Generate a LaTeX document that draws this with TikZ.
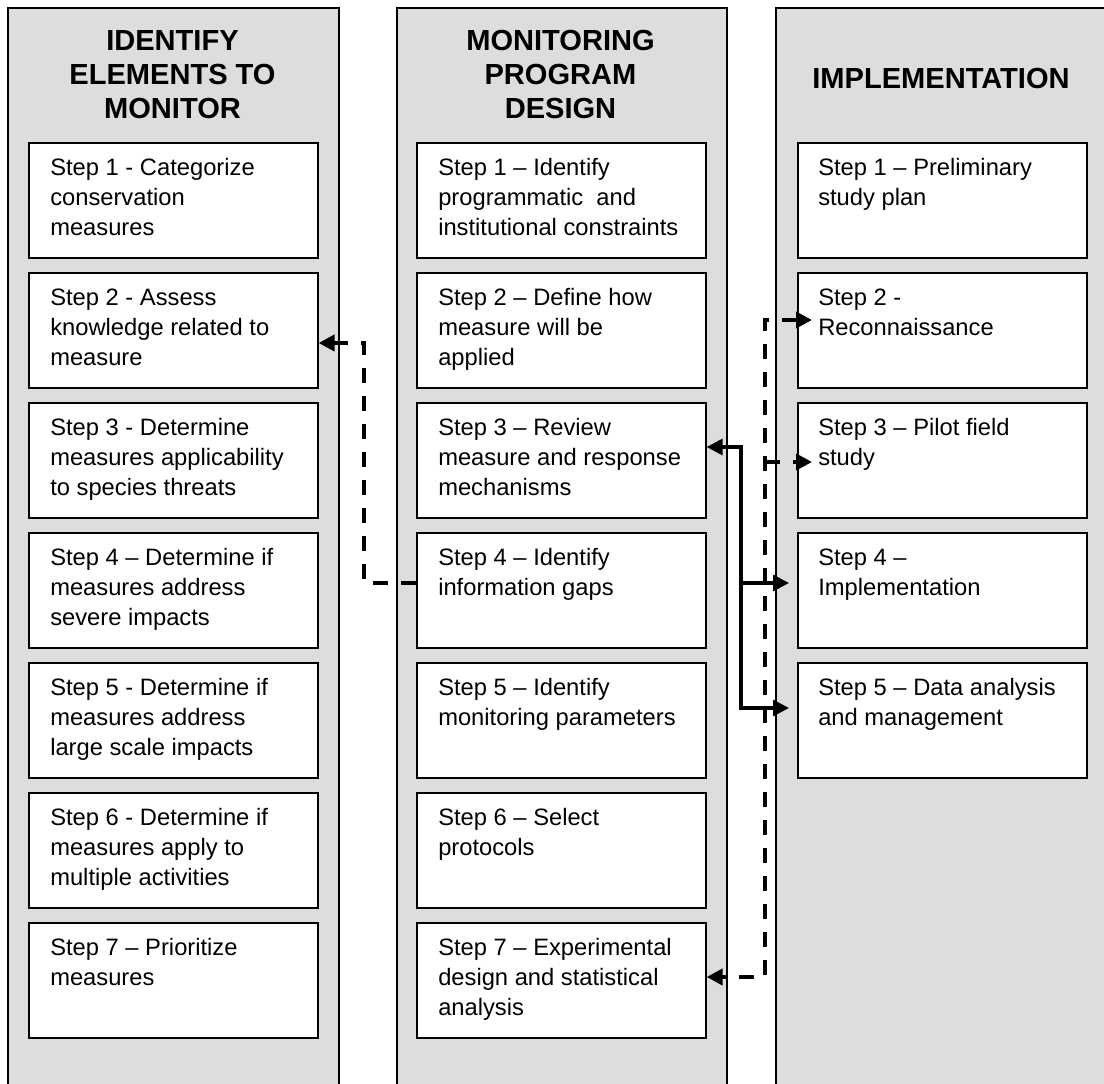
\documentclass[tikz,border=0pt]{standalone}
\usepackage{fontspec}
\setmainfont{Liberation Sans}
\usetikzlibrary{arrows.meta,calc}
\definecolor{colgray}{RGB}{221,221,221}
\tikzset{
  x=0.75pt, y=-0.75pt,
  column/.style={draw=black, fill=colgray, line width=1.2pt},
  stepbox/.style={draw=black, fill=white, line width=1.2pt, anchor=north west,
    minimum width=216.75pt, minimum height=86.25pt, inner sep=0pt},
  steptext/.style={anchor=north west, inner sep=0pt, font=\fontsize{17.8pt}{22.5pt}\selectfont},
  titletext/.style={anchor=north, inner sep=0pt, font=\fontsize{21.8pt}{25.5pt}\selectfont\bfseries},
  arrowend/.style={-{Triangle[length=12pt,width=12pt]}},
  arrowboth/.style={{Triangle[length=12pt,width=12pt]}-{Triangle[length=12pt,width=12pt]}},
  dashconn/.style={line width=3pt, dash pattern=on 11pt off 10pt},
  solidconn/.style={line width=2.4pt},
}
\newcommand\steptxt[1]{\parbox[t]{210pt}{\raggedright\strut #1}}
\newcommand\titletxt[1]{\parbox[t]{240pt}{\centering\strut #1}}
\begin{document}
\begin{tikzpicture}
\useasboundingbox (0,0) rectangle (1104,1084);
\clip (0,0) rectangle (1104,1084);
% columns
\path[column] (8,8) rectangle (339,1110);
\path[column] (397,8) rectangle (727,1110);
\path[column] (776,8) rectangle (1130,1110);
% titles
\node[titletext] (t1) at (172.5,26) {\titletxt{IDENTIFY\\ELEMENTS TO\\MONITOR}};
\node[titletext] (t2) at (560.5,26) {\titletxt{MONITORING\\PROGRAM\\DESIGN}};
\node[titletext] (t3) at (941,64) {\titletxt{IMPLEMENTATION}};
% column 1
\node[stepbox] (a1) at (28,142) {};
\node[stepbox] (a2) at (28,272) {};
\node[stepbox] (a3) at (28,402) {};
\node[stepbox] (a4) at (28,532) {};
\node[stepbox] (a5) at (28,662) {};
\node[stepbox] (a6) at (28,792) {};
\node[stepbox] (a7) at (28,922) {};
\node[steptext] (a1t) at ($(a1.north west)+(22,12)$) {\steptxt{Step 1 - Categorize\\conservation\\measures}};
\node[steptext] (a2t) at ($(a2.north west)+(22,12)$) {\steptxt{Step 2 - Assess\\knowledge related to\\measure}};
\node[steptext] (a3t) at ($(a3.north west)+(22,12)$) {\steptxt{Step 3 - Determine\\measures applicability\\to species threats}};
\node[steptext] (a4t) at ($(a4.north west)+(22,12)$) {\steptxt{Step 4 – Determine if\\measures address\\severe impacts}};
\node[steptext] (a5t) at ($(a5.north west)+(22,12)$) {\steptxt{Step 5 - Determine if\\measures address\\large scale impacts}};
\node[steptext] (a6t) at ($(a6.north west)+(22,12)$) {\steptxt{Step 6 - Determine if\\measures apply to\\multiple activities}};
\node[steptext] (a7t) at ($(a7.north west)+(22,12)$) {\steptxt{Step 7 – Prioritize\\measures}};
% column 2
\node[stepbox] (b1) at (416,142) {};
\node[stepbox] (b2) at (416,272) {};
\node[stepbox] (b3) at (416,402) {};
\node[stepbox] (b4) at (416,532) {};
\node[stepbox] (b5) at (416,662) {};
\node[stepbox] (b6) at (416,792) {};
\node[stepbox] (b7) at (416,922) {};
\node[steptext] (b1t) at ($(b1.north west)+(22,12)$) {\steptxt{Step 1 – Identify\\programmatic \ and\\institutional constraints}};
\node[steptext] (b2t) at ($(b2.north west)+(22,12)$) {\steptxt{Step 2 – Define how\\measure will be\\applied}};
\node[steptext] (b3t) at ($(b3.north west)+(22,12)$) {\steptxt{Step 3 – Review\\measure and response\\mechanisms}};
\node[steptext] (b4t) at ($(b4.north west)+(22,12)$) {\steptxt{Step 4 – Identify\\information gaps}};
\node[steptext] (b5t) at ($(b5.north west)+(22,12)$) {\steptxt{Step 5 – Identify\\monitoring parameters}};
\node[steptext] (b6t) at ($(b6.north west)+(22,12)$) {\steptxt{Step 6 – Select\\protocols}};
\node[steptext] (b7t) at ($(b7.north west)+(22,12)$) {\steptxt{Step 7 – Experimental\\design and statistical\\analysis}};
% column 3
\node[stepbox] (c1) at (797,142) {};
\node[stepbox] (c2) at (797,272) {};
\node[stepbox] (c3) at (797,402) {};
\node[stepbox] (c4) at (797,532) {};
\node[stepbox] (c5) at (797,662) {};
\node[steptext] (c1t) at ($(c1.north west)+(21,12)$) {\steptxt{Step 1 – Preliminary\\study plan}};
\node[steptext] (c2t) at ($(c2.north west)+(21,12)$) {\steptxt{Step 2 -\\Reconnaissance}};
\node[steptext] (c3t) at ($(c3.north west)+(21,12)$) {\steptxt{Step 3 – Pilot field\\study}};
\node[steptext] (c4t) at ($(c4.north west)+(21,12)$) {\steptxt{Step 4 –\\Implementation}};
\node[steptext] (c5t) at ($(c5.north west)+(21,12)$) {\steptxt{Step 5 – Data analysis\\and management}};
% connector 1 (dashed, col2 step4 -> col1 step2)
\coordinate (d1) at (364,343);
\coordinate (d2) at (364,583);
\draw[dashconn, arrowend] (b4.west |- d2) -- (d2) -- (d1) -- (a2.east |- d1);
% connector 2 (solid)
\coordinate (s1) at (741,447);
\coordinate (s2) at (741,708);
\coordinate (s3) at (741,583);
\draw[solidconn, arrowboth] (b3.east |- s1) -- (s1) -- (s2) -- ($(c5.west |- s2)+(-8,0)$);
\draw[solidconn, arrowend] (s3) -- ($(c4.west |- s3)+(-8,0)$);
% connector 3 (dashed)
\coordinate (e1) at (765,320);
\coordinate (e2) at (765,462);
\coordinate (e3) at (765,977);
\draw[dashconn, arrowboth] ($(c2.west |- e1)+(15,0)$) -- (e1) -- (e3) -- (b7.east |- e3);
\draw[dashconn, arrowend] (e2) -- ($(c3.west |- e2)+(15,0)$);
\end{tikzpicture}
\end{document}
